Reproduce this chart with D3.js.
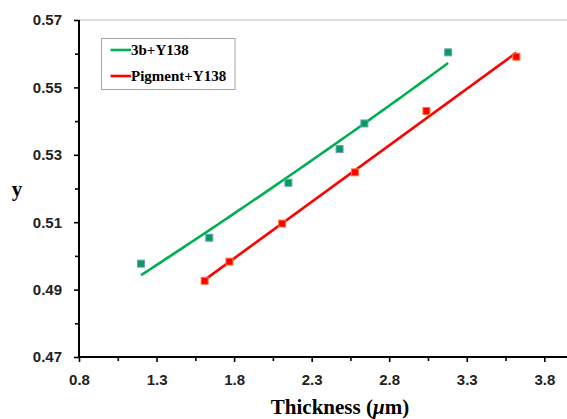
<!DOCTYPE html>
<html>
<head>
<meta charset="utf-8">
<script src="https://cdn.jsdelivr.net/npm/d3@7"></script>
<style>
  html, body { margin: 0; padding: 0; background: #fff; }
  svg { display: block; }
</style>
</head>
<body>
<svg id="chart" width="567" height="419"></svg>
<script>
// Measured samples: film thickness (µm) against chromaticity y
const seriesNames = ["3b+Y138", "Pigment+Y138"];
const dyeX = [1.20, 1.64, 2.15, 2.48, 2.64, 3.18];
const dyeY = [0.4977, 0.5054, 0.5217, 0.5317, 0.5393, 0.5604];
const pigX = [1.61, 1.77, 2.11, 2.58, 3.04, 3.62];
const pigY = [0.4926, 0.4983, 0.5096, 0.5248, 0.5430, 0.5591];

const xTicks = [0.8, 1.3, 1.8, 2.3, 2.8, 3.3, 3.8];
const xMinor = [1.05, 1.55, 2.05, 2.55, 3.05, 3.55];
const yTicks = [0.47, 0.49, 0.51, 0.53, 0.55, 0.57];
const yMinor = [0.48, 0.50, 0.52, 0.54, 0.56];

const svg = d3.select("#chart");
const plotLeft = 79, plotTop = 20, plotBottom = 357;
const x = d3.scaleLinear().domain([0.8, 4.0]).range([plotLeft, plotLeft + 3.2 * 155.1]);
const y = d3.scaleLinear().domain([0.47, 0.57]).range([plotBottom, plotTop]);

// Trendlines: exponential fit (least squares on ln y) and linear fit
function linFit(xs, ys) {
  const mx = d3.mean(xs), my = d3.mean(ys);
  let sxy = 0, sxx = 0;
  xs.forEach((v, i) => { sxy += (v - mx) * (ys[i] - my); sxx += (v - mx) ** 2; });
  const b = sxy / sxx;
  return { a: my - b * mx, b };
}
const expFit = (() => {
  const f = linFit(dyeX, dyeY.map(Math.log));
  return t => Math.exp(f.a + f.b * t);
})();
const lineFit = (() => {
  const f = linFit(pigX, pigY);
  return t => f.a + f.b * t;
})();

// top frame line
svg.append("line")
  .attr("x1", plotLeft).attr("x2", 567).attr("y1", plotTop).attr("y2", plotTop)
  .attr("stroke", "#b8b8b8").attr("stroke-width", 1);

// axes
const tickFont = "'Liberation Sans', Arial, sans-serif";
const xAxis = svg.append("g").attr("transform", `translate(0,${plotBottom})`)
  .call(d3.axisBottom(x).tickValues(xTicks).tickFormat(d3.format(".1f")).tickSize(5).tickPadding(12));
const xMin = svg.append("g").attr("transform", `translate(0,${plotBottom})`)
  .call(d3.axisBottom(x).tickValues(xMinor).tickFormat("").tickSize(4));
const yAxis = svg.append("g").attr("transform", `translate(${plotLeft},0)`)
  .call(d3.axisLeft(y).tickValues(yTicks).tickFormat(d3.format(".2f")).tickSize(5).tickPadding(12));
const yMin = svg.append("g").attr("transform", `translate(${plotLeft},0)`)
  .call(d3.axisLeft(y).tickValues(yMinor).tickFormat("").tickSize(4));

[xAxis, xMin, yAxis, yMin].forEach(g => {
  g.select(".domain").attr("stroke", "#000").attr("stroke-width", 2);
  g.selectAll(".tick line").attr("stroke", "#000").attr("stroke-width", 1.6);
  g.selectAll("text").attr("font-family", tickFont).attr("font-size", 15)
    .attr("font-weight", "bold").attr("fill", "#222");
});
xMin.select(".domain").remove();
yMin.select(".domain").remove();
// x axis line runs on to the right edge
xAxis.select(".domain").attr("d", `M${plotLeft},0H${x(4.0)}`);
yAxis.select(".domain").attr("d", `M0,${plotBottom}V${plotTop}`);

// trendlines
const tLine = d3.line().x(d => x(d[0])).y(d => y(d[1]));
const dyeSamples = d3.range(0, 61).map(i => {
  const t = d3.min(dyeX) + (d3.max(dyeX) - d3.min(dyeX)) * i / 60;
  return [t, expFit(t)];
});
const pigSamples = [d3.min(pigX), d3.max(pigX)].map(t => [t, lineFit(t)]);

svg.append("path").datum(dyeSamples).attr("d", tLine)
  .attr("fill", "none").attr("stroke", "#00B050").attr("stroke-width", 2.6);
svg.append("path").datum(pigSamples).attr("d", tLine)
  .attr("fill", "none").attr("stroke", "#FF0000").attr("stroke-width", 2.6);

// markers
const ms = 7;
svg.append("g").selectAll("rect").data(dyeX.map((v, i) => [v, dyeY[i]])).join("rect")
  .attr("x", d => x(d[0]) - ms / 2).attr("y", d => y(d[1]) - ms / 2)
  .attr("width", ms).attr("height", ms)
  .attr("fill", "#00A050").attr("stroke", "#6f97cf").attr("stroke-width", 1);
svg.append("g").selectAll("rect").data(pigX.map((v, i) => [v, pigY[i]])).join("rect")
  .attr("x", d => x(d[0]) - ms / 2).attr("y", d => y(d[1]) - ms / 2)
  .attr("width", ms).attr("height", ms)
  .attr("fill", "#FF0000").attr("stroke", "#FF7a3a").attr("stroke-width", 1);

// axis titles
const serif = "'Liberation Serif', 'Times New Roman', serif";
svg.append("text").attr("x", 17).attr("y", 196).attr("text-anchor", "middle")
  .attr("font-family", serif).attr("font-weight", "bold").attr("font-size", 21)
  .attr("fill", "#000").text("y");
const xt = svg.append("text").attr("x", 340).attr("y", 414).attr("text-anchor", "middle")
  .attr("font-family", serif).attr("font-weight", "bold").attr("font-size", 21)
  .attr("fill", "#000");
xt.append("tspan").text("Thickness (");
xt.append("tspan").attr("font-style", "italic").text("μ");
xt.append("tspan").text("m)");

// legend
const lg = svg.append("g");
lg.append("rect").attr("x", 101.5).attr("y", 38.5).attr("width", 133.5).attr("height", 51)
  .attr("fill", "#fff").attr("stroke", "#a6a6a6").attr("stroke-width", 1);
const legColors = ["#00B050", "#FF0000"];
seriesNames.forEach((name, i) => {
  const ly = 50 + i * 26;
  lg.append("line").attr("x1", 110.5).attr("x2", 131).attr("y1", ly).attr("y2", ly)
    .attr("stroke", legColors[i]).attr("stroke-width", 2.6);
  lg.append("text").attr("x", 131).attr("y", ly + 5)
    .attr("font-family", serif).attr("font-weight", "bold").attr("font-size", 15)
    .attr("fill", "#000").text(name);
});
</script>
</body>
</html>
